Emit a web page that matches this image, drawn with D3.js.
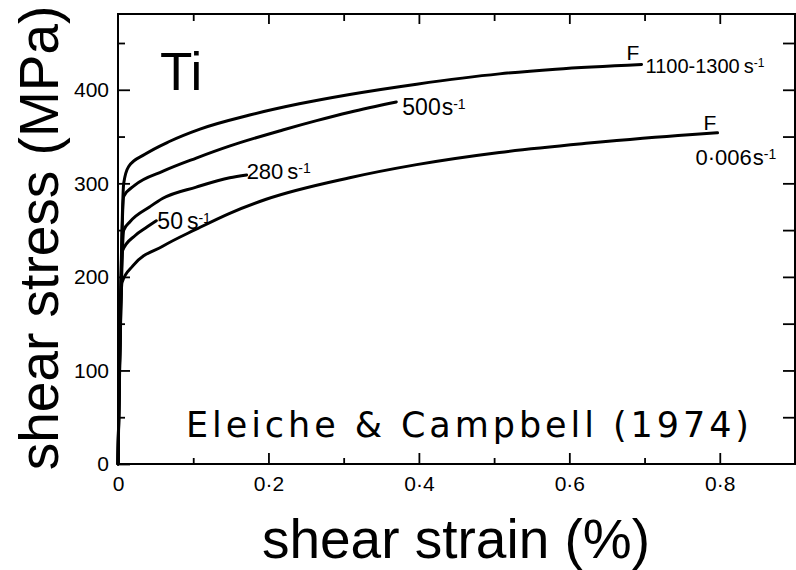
<!DOCTYPE html>
<html>
<head>
<meta charset="utf-8">
<script src="https://cdn.jsdelivr.net/npm/d3@7"></script>
<style>
  body { margin: 0; background: #fff; }
  svg { display: block; }
</style>
</head>
<body>
<svg id="chart" width="796" height="570"></svg>
<script>
// shear strain (%) / shear stress (MPa), one pair per strain rate
const strain1300 = [0, 0.0076, 0.0142, 0.0358, 0.069, 0.109, 0.175, 0.241, 0.308, 0.397, 0.507, 0.582, 0.696];
const stress1300 = [0, 300, 318, 331, 345, 358, 373, 385, 395, 406, 417, 422, 427];

const strain500 = [0, 0.0076, 0.0225, 0.06, 0.104, 0.149, 0.219, 0.264, 0.308, 0.37];
const stress500 = [0, 286, 298, 313, 327, 340, 357, 367, 376, 387];

const strain280 = [0, 0.0076, 0.0159, 0.0424, 0.0597, 0.104, 0.1485, 0.171];
const stress280 = [0, 250, 259, 275, 284, 296, 306, 309];

const strain50 = [0, 0.006, 0.0225, 0.038, 0.051];
const stress50 = [0, 228, 244, 253, 260];

const strain0006 = [0, 0.0053, 0.02, 0.06, 0.104, 0.1485, 0.197, 0.308, 0.397, 0.507, 0.626, 0.759, 0.797];
const stress0006 = [0, 194, 212, 233, 251, 268, 283, 306, 320, 333, 343, 352, 354];

const rateNames = ["1100-1300", "500", "280", "50", "0·006"];

const strainTicks = [0, 0.2, 0.4, 0.6, 0.8];
const strainTickLabels = ["0", "0·2", "0·4", "0·6", "0·8"];
const strainMinor = [0.1, 0.3, 0.5, 0.7];
const stressTicks = [0, 100, 200, 300, 400];
const stressMinor = [50, 150, 250, 350, 450];

const svg = d3.select("#chart");

const x = d3.scaleLinear().domain([0, 0.9]).range([118, 795]);
const y = d3.scaleLinear().domain([0, 481]).range([464, 14]);

const tickFont = "'Liberation Sans', Arial, sans-serif";

// frame
svg.append("rect")
  .attr("x", x(0)).attr("y", y(481))
  .attr("width", x(0.9) - x(0)).attr("height", y(0) - y(481))
  .attr("fill", "none").attr("stroke", "#000").attr("stroke-width", 2);

function styleAxis(g) {
  g.select(".domain").remove();
  g.selectAll("line").attr("stroke", "#000").attr("stroke-width", 1.8);
  g.selectAll("text").attr("fill", "#000").style("font-family", tickFont).style("font-size", "21px");
}

// left axis, ticks point inward
svg.append("g").attr("transform", `translate(${x(0)},0)`)
  .call(d3.axisLeft(y).tickValues(stressTicks).tickSizeInner(-12).tickSizeOuter(0).tickPadding(9))
  .call(styleAxis);
svg.append("g").attr("transform", `translate(${x(0)},0)`)
  .call(d3.axisLeft(y).tickValues(stressMinor).tickSizeInner(-7).tickSizeOuter(0).tickFormat(""))
  .call(styleAxis);

// right axis
svg.append("g").attr("transform", `translate(${x(0.9)},0)`)
  .call(d3.axisRight(y).tickValues(stressTicks.slice(1).concat(stressMinor)).tickSizeInner(-12).tickSizeOuter(0).tickFormat(""))
  .call(styleAxis);

// bottom axis
svg.append("g").attr("transform", `translate(0,${y(0)})`)
  .call(d3.axisBottom(x).tickValues(strainTicks).tickSizeInner(-11).tickSizeOuter(0).tickPadding(12)
    .tickFormat((d, i) => strainTickLabels[i]))
  .call(styleAxis);
svg.append("g").attr("transform", `translate(0,${y(0)})`)
  .call(d3.axisBottom(x).tickValues(strainMinor).tickSizeInner(-6).tickSizeOuter(0).tickFormat(""))
  .call(styleAxis);

// top axis
svg.append("g").attr("transform", `translate(0,${y(481)})`)
  .call(d3.axisTop(x).tickValues(strainTicks.slice(1)).tickSizeInner(-10).tickSizeOuter(0).tickFormat(""))
  .call(styleAxis);
svg.append("g").attr("transform", `translate(0,${y(481)})`)
  .call(d3.axisTop(x).tickValues(strainMinor).tickSizeInner(-7).tickSizeOuter(0).tickFormat(""))
  .call(styleAxis);

// curves
const series = [
  [strain1300, stress1300],
  [strain500, stress500],
  [strain280, stress280],
  [strain50, stress50],
  [strain0006, stress0006]
];

const line = d3.line()
  .x(d => x(d[0]))
  .y(d => y(d[1]))
  .curve(d3.curveMonotoneX);

svg.append("g")
  .selectAll("path")
  .data(series.map(s => d3.zip(s[0], s[1])))
  .join("path")
    .attr("d", line)
    .attr("fill", "none")
    .attr("stroke", "#000")
    .attr("stroke-width", 3)
    .attr("stroke-linejoin", "round")
    .attr("stroke-linecap", "round");

// rate labels at the curve ends
function rateLabel(px, py, name, size, gap) {
  const t = svg.append("text")
    .attr("x", px).attr("y", py)
    .style("font-family", tickFont)
    .style("font-size", size + "px")
    .attr("fill", "#000");
  t.append("tspan").text(name);
  t.append("tspan").attr("dx", gap).text("s");
  t.append("tspan").attr("dy", -6).style("font-size", Math.round(size * 0.62) + "px").text("-1");
}

function endOf(i) {
  const s = series[i];
  const n = s[0].length - 1;
  return [x(s[0][n]), y(s[1][n])];
}

let e = endOf(0);
svg.append("text").attr("x", e[0] - 15).attr("y", e[1] - 5)
  .style("font-family", tickFont).style("font-size", "21px").text("F");
rateLabel(e[0] + 4, e[1] + 8, rateNames[0], 20, 4);

e = endOf(1);
rateLabel(e[0] + 6, e[1] + 13, rateNames[1], 23, 1);

e = endOf(2);
rateLabel(e[0], e[1] + 4, rateNames[2], 22, 4);

e = endOf(3);
rateLabel(e[0] + 1, e[1] + 8, rateNames[3], 23, 4);

e = endOf(4);
svg.append("text").attr("x", e[0] - 14).attr("y", e[1] - 3)
  .style("font-family", tickFont).style("font-size", "21px").text("F");
rateLabel(e[0] - 22, e[1] + 32, rateNames[4], 22, 1);

// titles and notes
svg.append("text")
  .attr("x", 456).attr("y", 558)
  .attr("text-anchor", "middle")
  .style("font-family", tickFont).style("font-size", "55px")
  .text("shear strain (%)");

svg.append("text")
  .attr("transform", "translate(58,238) rotate(-90)")
  .attr("text-anchor", "middle")
  .style("font-family", tickFont).style("font-size", "55px")
  .text("shear stress (MPa)");

svg.append("text")
  .attr("x", 160).attr("y", 90)
  .style("font-family", tickFont).style("font-size", "53px")
  .text("Ti");

svg.append("text")
  .attr("x", 186).attr("y", 437)
  .attr("textLength", 563).attr("lengthAdjust", "spacing")
  .style("font-family", "'DejaVu Sans', Verdana, sans-serif").style("font-size", "35px")
  .text("Eleiche & Campbell (1974)");
</script>
</body>
</html>
